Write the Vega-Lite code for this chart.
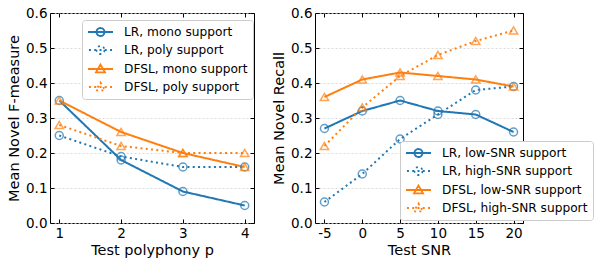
{
  "$schema": "https://vega.github.io/schema/vega-lite/v6.json",
  "padding": {"left": 6, "top": 5, "right": 0, "bottom": 2},
  "spacing": 16,
  "config": {
    "font": "DejaVu Sans",
    "view": {"stroke": "black", "strokeWidth": 1},
    "axis": {
      "labelFontSize": 13.5, "titleFontSize": 14.5, "labelColor": "black", "titleColor": "black",
      "titleFontWeight": "normal", "domain": false, "tickColor": "black", "tickSize": -4,
      "labelPadding": 7, "grid": false, "titlePadding": 4
    },
    "legend": {
      "title": null, "labelFontSize": 12.2, "labelColor": "black", "symbolSize": 144,
      "labelOffset": 23, "padding": 5, "strokeColor": "#cccccc", "fillColor": "white",
      "cornerRadius": 3, "rowPadding": 2, "labelLimit": 400,
      "symbolOpacity": 1, "symbolStrokeWidth": 1.8, "symbolFillColor": "transparent", "symbolDash": [1, 0]
    }
  },
  "hconcat": [
    {
      "width": 204, "height": 210,
      "data": {"values": [
        {"s": "LR, mono support", "p": 1, "v": 0.35},
        {"s": "LR, mono support", "p": 2, "v": 0.18},
        {"s": "LR, mono support", "p": 3, "v": 0.09},
        {"s": "LR, mono support", "p": 4, "v": 0.05},
        {"s": "LR, poly support", "p": 1, "v": 0.25},
        {"s": "LR, poly support", "p": 2, "v": 0.19},
        {"s": "LR, poly support", "p": 3, "v": 0.16},
        {"s": "LR, poly support", "p": 4, "v": 0.16},
        {"s": "DFSL, mono support", "p": 1, "v": 0.35},
        {"s": "DFSL, mono support", "p": 2, "v": 0.26},
        {"s": "DFSL, mono support", "p": 3, "v": 0.20},
        {"s": "DFSL, mono support", "p": 4, "v": 0.16},
        {"s": "DFSL, poly support", "p": 1, "v": 0.28},
        {"s": "DFSL, poly support", "p": 2, "v": 0.22},
        {"s": "DFSL, poly support", "p": 3, "v": 0.20},
        {"s": "DFSL, poly support", "p": 4, "v": 0.20}
      ]},
      "layer": [
        {
          "mark": {"type": "line", "strokeWidth": 2},
          "encoding": {
            "x": {"field": "p", "type": "quantitative", "scale": {"domain": [0.85, 4.15], "nice": false, "zero": false},
                  "axis": {"orient": "bottom", "values": [1, 2, 3, 4], "title": "Test polyphony p", "format": "d"}},
            "y": {"field": "v", "type": "quantitative", "scale": {"domain": [0, 0.6], "nice": false},
                  "axis": {"orient": "left", "values": [0, 0.1, 0.2, 0.3, 0.4, 0.5, 0.6], "format": ".1f", "title": "Mean Novel F-measure",
                           "grid": true, "gridColor": "#d0d0d0", "gridDash": [2, 2], "gridWidth": 0.8}},
            "color": {"field": "s", "type": "nominal",
                      "scale": {"domain": ["LR, mono support", "LR, poly support", "DFSL, mono support", "DFSL, poly support"], "range": ["#1f77b4", "#1f77b4", "#ff7f0e", "#ff7f0e"]},
                      "legend": {"orient": "none", "legendX": 32, "legendY": 7}},
            "strokeDash": {"field": "s", "type": "nominal",
                           "scale": {"domain": ["LR, mono support", "LR, poly support", "DFSL, mono support", "DFSL, poly support"], "range": [[1, 0], [2, 3.3], [1, 0], [2, 3.3]]},
                           "legend": null}
          }
        },
        {
          "mark": {"type": "point", "filled": false, "opacity": 0, "strokeWidth": 1.8},
          "encoding": {
            "x": {"field": "p", "type": "quantitative", "axis": {"orient": "top", "values": [1, 2, 3, 4], "labels": false, "title": null}},
            "y": {"field": "v", "type": "quantitative", "axis": {"orient": "right", "values": [0, 0.1, 0.2, 0.3, 0.4, 0.5, 0.6], "labels": false, "title": null}},
            "color": {"field": "s", "type": "nominal"},
            "shape": {"field": "s", "type": "nominal",
                      "scale": {"domain": ["LR, mono support", "LR, poly support", "DFSL, mono support", "DFSL, poly support"],
                                "range": ["M-1,0H3.17M1.75,0A0.67,0.67 0 1 1 0.41,0A0.67,0.67 0 1 1 1.75,0",
                                          "M-0.84,0H-0.51M0.04,0H0.37M0.92,0H1.25M1.79,0H2.12M2.67,0H3M1.75,0A0.67,0.67 0 1 1 0.41,0A0.67,0.67 0 1 1 1.75,0",
                                          "M-1,0H3.17M1.08,-0.75L1.83,0.55L0.33,0.55Z",
                                          "M-0.84,0H-0.51M0.04,0H0.37M0.92,0H1.25M1.79,0H2.12M2.67,0H3M1.08,-0.75L1.83,0.55L0.33,0.55Z"]},
                      "legend": {"orient": "none", "legendX": 32, "legendY": 7}}
          }
        },
        {
          "transform": [{"filter": "indexof(datum.s, 'LR') == 0"}],
          "mark": {"type": "point", "shape": "circle", "filled": false, "size": 64, "strokeWidth": 1.5},
          "encoding": {
            "x": {"field": "p", "type": "quantitative", "axis": null},
            "y": {"field": "v", "type": "quantitative", "axis": null},
            "color": {"field": "s", "type": "nominal"}
          }
        },
        {
          "transform": [{"filter": "indexof(datum.s, 'DFSL') == 0"}],
          "mark": {"type": "point", "shape": "triangle-up", "filled": false, "size": 70, "strokeWidth": 1.5},
          "encoding": {
            "x": {"field": "p", "type": "quantitative", "axis": null},
            "y": {"field": "v", "type": "quantitative", "axis": null},
            "color": {"field": "s", "type": "nominal"}
          }
        }
      ],
      "resolve": {"axis": {"x": "independent", "y": "independent"}}
    },
    {
      "width": 208, "height": 210,
      "data": {"values": [
        {"s": "LR, low-SNR support", "p": -5, "v": 0.27},
        {"s": "LR, low-SNR support", "p": 0, "v": 0.32},
        {"s": "LR, low-SNR support", "p": 5, "v": 0.35},
        {"s": "LR, low-SNR support", "p": 10, "v": 0.32},
        {"s": "LR, low-SNR support", "p": 15, "v": 0.31},
        {"s": "LR, low-SNR support", "p": 20, "v": 0.26},
        {"s": "LR, high-SNR support", "p": -5, "v": 0.06},
        {"s": "LR, high-SNR support", "p": 0, "v": 0.14},
        {"s": "LR, high-SNR support", "p": 5, "v": 0.24},
        {"s": "LR, high-SNR support", "p": 10, "v": 0.31},
        {"s": "LR, high-SNR support", "p": 15, "v": 0.38},
        {"s": "LR, high-SNR support", "p": 20, "v": 0.39},
        {"s": "DFSL, low-SNR support", "p": -5, "v": 0.36},
        {"s": "DFSL, low-SNR support", "p": 0, "v": 0.41},
        {"s": "DFSL, low-SNR support", "p": 5, "v": 0.43},
        {"s": "DFSL, low-SNR support", "p": 10, "v": 0.42},
        {"s": "DFSL, low-SNR support", "p": 15, "v": 0.41},
        {"s": "DFSL, low-SNR support", "p": 20, "v": 0.39},
        {"s": "DFSL, high-SNR support", "p": -5, "v": 0.22},
        {"s": "DFSL, high-SNR support", "p": 0, "v": 0.33},
        {"s": "DFSL, high-SNR support", "p": 5, "v": 0.42},
        {"s": "DFSL, high-SNR support", "p": 10, "v": 0.48},
        {"s": "DFSL, high-SNR support", "p": 15, "v": 0.52},
        {"s": "DFSL, high-SNR support", "p": 20, "v": 0.55}
      ]},
      "layer": [
        {
          "mark": {"type": "line", "strokeWidth": 2},
          "encoding": {
            "x": {"field": "p", "type": "quantitative", "scale": {"domain": [-6.25, 21.25], "nice": false, "zero": false},
                  "axis": {"orient": "bottom", "values": [-5, 0, 5, 10, 15, 20], "title": "Test SNR", "labelExpr": "'' + datum.value"}},
            "y": {"field": "v", "type": "quantitative", "scale": {"domain": [0, 0.6], "nice": false},
                  "axis": {"orient": "left", "values": [0, 0.1, 0.2, 0.3, 0.4, 0.5, 0.6], "format": ".1f", "title": "Mean Novel Recall",
                           "grid": true, "gridColor": "#d0d0d0", "gridDash": [2, 2], "gridWidth": 0.8}},
            "color": {"field": "s", "type": "nominal",
                      "scale": {"domain": ["LR, low-SNR support", "LR, high-SNR support", "DFSL, low-SNR support", "DFSL, high-SNR support"], "range": ["#1f77b4", "#1f77b4", "#ff7f0e", "#ff7f0e"]},
                      "legend": {"orient": "none", "legendX": 85, "legendY": 128}},
            "strokeDash": {"field": "s", "type": "nominal",
                           "scale": {"domain": ["LR, low-SNR support", "LR, high-SNR support", "DFSL, low-SNR support", "DFSL, high-SNR support"], "range": [[1, 0], [2, 3.3], [1, 0], [2, 3.3]]},
                           "legend": null}
          }
        },
        {
          "mark": {"type": "point", "filled": false, "opacity": 0, "strokeWidth": 1.8},
          "encoding": {
            "x": {"field": "p", "type": "quantitative", "axis": {"orient": "top", "values": [-5, 0, 5, 10, 15, 20], "labels": false, "title": null}},
            "y": {"field": "v", "type": "quantitative", "axis": {"orient": "right", "values": [0, 0.1, 0.2, 0.3, 0.4, 0.5, 0.6], "labels": false, "title": null}},
            "color": {"field": "s", "type": "nominal"},
            "shape": {"field": "s", "type": "nominal",
                      "scale": {"domain": ["LR, low-SNR support", "LR, high-SNR support", "DFSL, low-SNR support", "DFSL, high-SNR support"],
                                "range": ["M-1,0H3.17M1.75,0A0.67,0.67 0 1 1 0.41,0A0.67,0.67 0 1 1 1.75,0",
                                          "M-0.84,0H-0.51M0.04,0H0.37M0.92,0H1.25M1.79,0H2.12M2.67,0H3M1.75,0A0.67,0.67 0 1 1 0.41,0A0.67,0.67 0 1 1 1.75,0",
                                          "M-1,0H3.17M1.08,-0.75L1.83,0.55L0.33,0.55Z",
                                          "M-0.84,0H-0.51M0.04,0H0.37M0.92,0H1.25M1.79,0H2.12M2.67,0H3M1.08,-0.75L1.83,0.55L0.33,0.55Z"]},
                      "legend": {"orient": "none", "legendX": 85, "legendY": 128}}
          }
        },
        {
          "transform": [{"filter": "indexof(datum.s, 'LR') == 0"}],
          "mark": {"type": "point", "shape": "circle", "filled": false, "size": 64, "strokeWidth": 1.5},
          "encoding": {
            "x": {"field": "p", "type": "quantitative", "axis": null},
            "y": {"field": "v", "type": "quantitative", "axis": null},
            "color": {"field": "s", "type": "nominal"}
          }
        },
        {
          "transform": [{"filter": "indexof(datum.s, 'DFSL') == 0"}],
          "mark": {"type": "point", "shape": "triangle-up", "filled": false, "size": 70, "strokeWidth": 1.5},
          "encoding": {
            "x": {"field": "p", "type": "quantitative", "axis": null},
            "y": {"field": "v", "type": "quantitative", "axis": null},
            "color": {"field": "s", "type": "nominal"}
          }
        }
      ],
      "resolve": {"axis": {"x": "independent", "y": "independent"}}
    }
  ],
  "resolve": {"scale": {"color": "independent", "strokeDash": "independent", "shape": "independent"}}
}
